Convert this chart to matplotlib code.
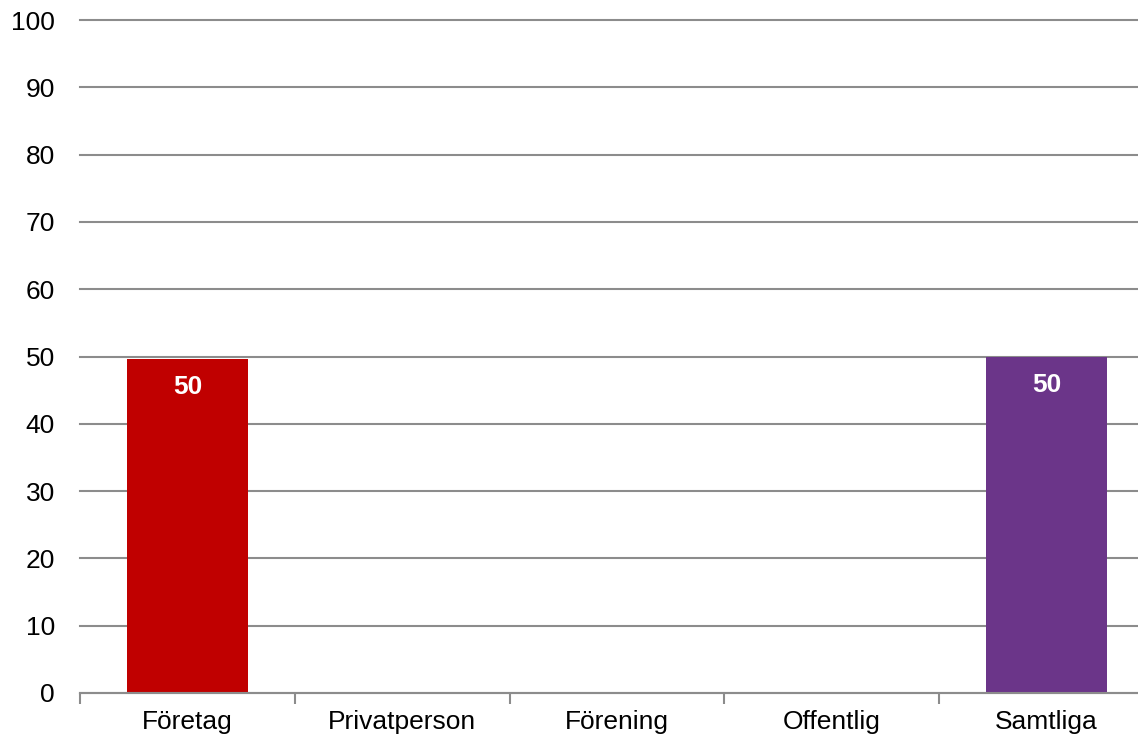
import numpy as np
import matplotlib.pyplot as plt

plt.rcParams['font.family'] = ['Liberation Sans', 'DejaVu Sans']

# Data
categories = ["Företag", "Privatperson", "Förening", "Offentlig", "Samtliga"]
values = [49.7, 0, 0, 0, 50.0]
labels = ["50", "", "", "", "50"]
colors = ["#C00000", "#C00000", "#C00000", "#C00000", "#6B3589"]

fig = plt.figure(figsize=(11.38, 7.39), dpi=100)
ax = fig.add_axes([80/1138, 46/739, 1073.75/1138, 673/739])

x = np.arange(len(categories))
bars = ax.bar(x, values, width=0.565, color=colors, zorder=3)

for xi, v, lab in zip(x, values, labels):
    if lab:
        ax.text(xi, v - 4.3, lab, ha='center', va='center', color='white',
                fontsize=19, fontweight='bold', zorder=4)

ax.set_xlim(-0.5, len(categories) - 0.5)
ax.set_ylim(0, 100)
ax.set_yticks(np.arange(0, 101, 10))
ax.yaxis.grid(True, color='#8c8c8c', linewidth=1.5, zorder=0)
for gl in ax.get_ygridlines():
    gl.set_clip_on(False)
ax.tick_params(axis='y', length=0, labelsize=19, pad=18)

ax.set_xticks(x)
ax.set_xticklabels(categories)
ax.set_xticks(np.arange(-0.5, len(categories)), minor=True)
ax.tick_params(axis='x', which='major', length=0, labelsize=19, pad=12)
ax.tick_params(axis='x', which='minor', length=8, width=1.5, color='#8c8c8c')

for s in ['left', 'right', 'top']:
    ax.spines[s].set_visible(False)
ax.spines['bottom'].set_color('#8c8c8c')
ax.spines['bottom'].set_linewidth(1.5)
ax.spines['bottom'].set_zorder(5)

fig.savefig('out.png', dpi=100)
